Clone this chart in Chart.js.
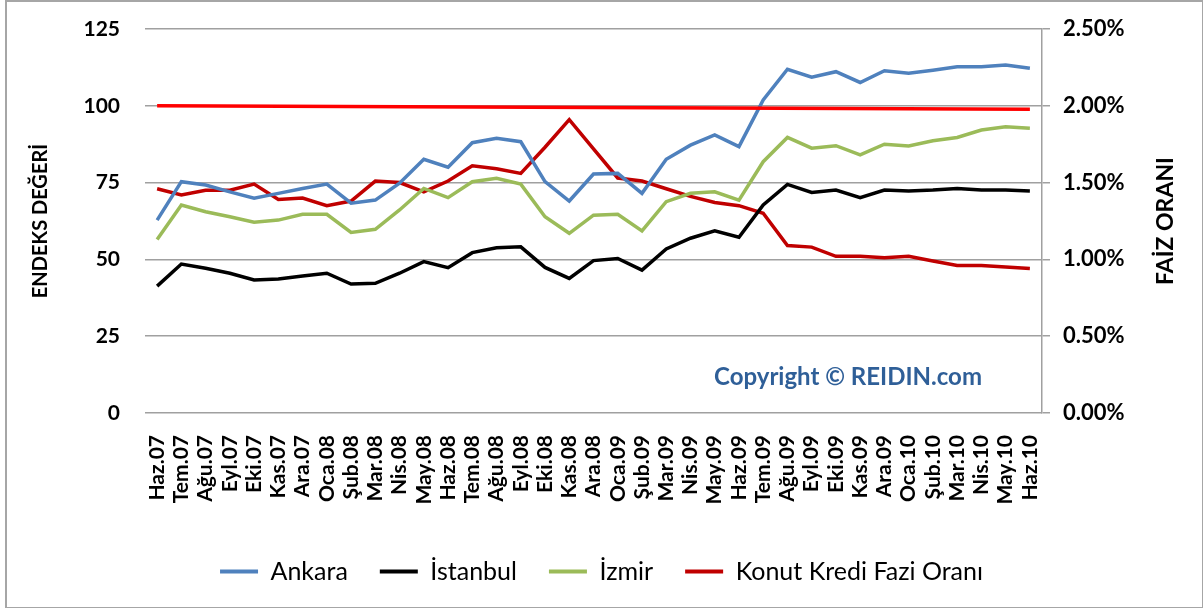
<!DOCTYPE html>
<html>
<head>
<meta charset="utf-8">
<title>Endeks ve Faiz</title>
<script src="https://cdn.jsdelivr.net/npm/chart.js@4/dist/chart.umd.min.js"></script>
<style>
  body { margin: 0; background: #fff; }
  #wrap { position: relative; width: 1203px; height: 608px; }
  #frame { position: absolute; left: 5px; top: 0px; width: 1195px; height: 605px; border: 2px solid #a6a6a6; pointer-events: none; }
</style>
</head>
<body>
<div id="wrap">
  <canvas id="chart" width="1203" height="608"></canvas>
  <div id="frame"></div>
</div>
<script>
// months, Haz.07 .. Haz.10
const months = ['Haz.07','Tem.07','Ağu.07','Eyl.07','Eki.07','Kas.07','Ara.07',
  'Oca.08','Şub.08','Mar.08','Nis.08','May.08','Haz.08','Tem.08','Ağu.08','Eyl.08','Eki.08','Kas.08','Ara.08',
  'Oca.09','Şub.09','Mar.09','Nis.09','May.09','Haz.09','Tem.09','Ağu.09','Eyl.09','Eki.09','Kas.09','Ara.09',
  'Oca.10','Şub.10','Mar.10','Nis.10','May.10','Haz.10'];

const ankara = [62.8,75.3,74.2,72,69.9,71.5,73.1,74.5,68.3,69.3,74.8,82.6,80,88,89.4,88.3,75.3,69,77.8,
  78,71.5,82.6,87.2,90.5,86.7,101.9,111.9,109.3,111.1,107.6,111.4,110.6,111.6,112.7,112.7,113.3,112.2];
const istanbul = [41.3,48.5,47.1,45.5,43.3,43.6,44.6,45.5,42,42.2,45.5,49.3,47.3,52.2,53.8,54.1,47.4,43.8,49.6,
  50.3,46.5,53.4,56.9,59.3,57.2,67.7,74.4,71.8,72.6,70.1,72.6,72.3,72.6,73.1,72.6,72.6,72.3];
const izmir = [56.5,67.7,65.5,63.9,62.1,62.8,64.7,64.7,58.8,59.8,66.1,73.1,70.1,75.3,76.4,74.5,63.9,58.5,64.4,
  64.7,59.3,68.8,71.5,72,69.3,81.8,89.7,86.2,87,84,87.5,86.9,88.6,89.7,92.1,93.2,92.7];
// konut kredi faiz orani, %
const faiz = [1.46,1.42,1.45,1.45,1.49,1.39,1.40,1.35,1.38,1.51,1.50,1.44,1.51,1.61,1.59,1.56,1.73,1.91,1.72,
  1.53,1.51,1.46,1.41,1.37,1.35,1.30,1.09,1.08,1.02,1.02,1.01,1.02,0.99,0.96,0.96,0.95,0.94];
// reference line at 100
const refLine = [{x: 'Haz.07', y: 100}, {x: 'Haz.10', y: 98.9}];

const leftTicks = [0, 25, 50, 75, 100, 125];
const rightTicks = [0, 0.5, 1, 1.5, 2, 2.5];

const FONT = 'Lato, "Open Sans", sans-serif';
const gridGray = '#a0a0a0';

// copyright note + right axis title (reads bottom to top like the left one)
const extrasPlugin = {
  id: 'extras',
  afterDraw(chart) {
    const ctx = chart.ctx;
    const area = chart.chartArea;
    ctx.save();
    ctx.font = 'bold 24px ' + FONT;
    ctx.fillStyle = '#2f5f98';
    ctx.textAlign = 'right';
    ctx.textBaseline = 'middle';
    ctx.fillText('Copyright © REIDIN.com', area.right - 60, chart.scales.y.getPixelForValue(11.5));

    ctx.translate(1166, (area.top + area.bottom) / 2);
    ctx.rotate(-Math.PI / 2);
    ctx.font = 'bold 23px ' + FONT;
    ctx.fillStyle = '#000';
    ctx.textAlign = 'center';
    ctx.fillText('FAİZ ORANI', 0, 0);
    ctx.restore();
  }
};

function line(label, data, color, axis) {
  return {
    label: label, data: data, yAxisID: axis,
    borderColor: color, backgroundColor: color,
    borderWidth: 3.5, pointRadius: 0, tension: 0, fill: false
  };
}

const ctx = document.getElementById('chart').getContext('2d');
new Chart(ctx, {
  type: 'line',
  data: {
    labels: months,
    datasets: [
      line('Ankara', ankara, '#4f81bd', 'y'),
      line('İstanbul', istanbul, '#000000', 'y'),
      line('İzmir', izmir, '#9bbb59', 'y'),
      line('Konut Kredi Fazi Oranı', faiz, '#c00000', 'y1'),
      Object.assign(line('ref', refLine, '#ff0000', 'y'), {order: -1})
    ]
  },
  options: {
    responsive: false,
    animation: false,
    layout: { padding: { top: 29, left: 0, right: 0, bottom: 14 } },
    plugins: {
      tooltip: { enabled: false },
      legend: {
        position: 'bottom',
        labels: {
          color: '#000',
          font: { family: FONT, size: 25 },
          boxWidth: 38,
          boxHeight: 4,
          padding: 32,
          generateLabels(chart) {
            const items = Chart.defaults.plugins.legend.labels.generateLabels(chart);
            return items.filter(it => it.datasetIndex !== 4).map(it => {
              it.lineWidth = 0;
              it.fillStyle = it.strokeStyle;
              return it;
            });
          }
        }
      }
    },
    scales: {
      x: {
        offset: true,
        grid: { display: false },
        border: { display: false },
        ticks: {
          autoSkip: false, maxRotation: 90, minRotation: 90, padding: 14,
          color: '#000', font: { family: FONT, size: 21, weight: 'bold' }
        },
        afterFit(s) { s.height = 114; }
      },
      y: {
        position: 'left',
        min: 0, max: 125,
        afterBuildTicks(s) { s.ticks = leftTicks.map(v => ({ value: v })); },
        grid: { color: gridGray, lineWidth: 1.5, drawTicks: true, tickLength: 22, tickColor: 'rgba(0,0,0,0)' },
        border: { display: false },
        ticks: { padding: 3, color: '#000', font: { family: FONT, size: 21, weight: 'bold' } },
        title: {
          display: true, text: 'ENDEKS DEĞERİ', color: '#000',
          font: { family: FONT, size: 20, weight: 'bold' }, padding: { top: 29, bottom: 0 }
        },
        afterFit(s) { s.width = 145; }
      },
      y1: {
        position: 'right',
        min: 0, max: 2.5,
        afterBuildTicks(s) { s.ticks = rightTicks.map(v => ({ value: v })); },
        grid: { drawOnChartArea: false, drawTicks: true, tickLength: 8, color: gridGray, lineWidth: 1.5 },
        border: { display: true, color: gridGray, width: 1.5 },
        ticks: {
          padding: 13, color: '#000', font: { family: FONT, size: 22, weight: 'bold' },
          callback: v => v.toFixed(2) + '%'
        },
        afterFit(s) { s.width = 161; }
      }
    }
  },
  plugins: [extrasPlugin]
});
</script>
</body>
</html>
